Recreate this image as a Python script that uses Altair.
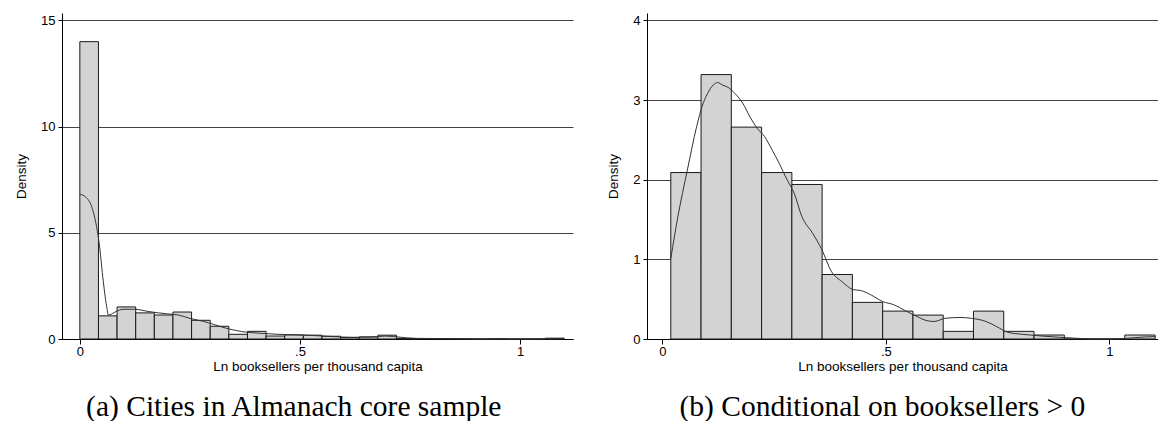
import altair as alt
import pandas as pd

# ---------------- data ----------------
# Panel (a): histogram of all cities
left_bin_start = 0.0
left_bin_width = 0.0423
left_heights = [14.0, 1.09, 1.51, 1.23, 1.13, 1.27, 0.88, 0.60, 0.22, 0.36,
                0.14, 0.19, 0.18, 0.13, 0.07, 0.10, 0.18, 0.03, 0.02, 0.02,
                0.01, 0.0, 0.01, 0.0, 0.0, 0.04]
left_kde_x = [0.0, 0.014, 0.027, 0.038, 0.044, 0.052, 0.061, 0.065, 0.082, 0.098,
              0.124, 0.157, 0.2, 0.224, 0.25, 0.283, 0.325, 0.367, 0.41, 0.45,
              0.49, 0.535, 0.578, 0.62, 0.66, 0.695, 0.73, 0.76, 0.83, 0.914,
              0.998, 1.06, 1.1]
left_kde_y = [6.82, 6.67, 6.23, 5.29, 4.5, 2.94, 1.52, 1.13, 1.29, 1.40,
              1.40, 1.29, 1.18, 1.13, 0.97, 0.82, 0.55, 0.35, 0.27, 0.22,
              0.20, 0.16, 0.11, 0.08, 0.09, 0.14, 0.08, 0.03, 0.02, 0.0,
              0.0, 0.01, 0.02]

# Panel (b): conditional on booksellers > 0
right_bin_start = 0.019
right_bin_width = 0.0677
right_heights = [2.09, 3.32, 2.66, 2.09, 1.94, 0.81, 0.46, 0.35, 0.30, 0.096,
                 0.35, 0.096, 0.05, 0.0, 0.0, 0.05]
right_kde_x = [0.019, 0.035, 0.056, 0.077, 0.089, 0.101, 0.114, 0.124, 0.134, 0.147,
               0.163, 0.18, 0.196, 0.213, 0.229, 0.246, 0.262, 0.279, 0.295, 0.312,
               0.336, 0.357, 0.378, 0.402, 0.427, 0.443, 0.468, 0.493, 0.518, 0.542,
               0.567, 0.592, 0.608, 0.633, 0.666, 0.691, 0.724, 0.748, 0.773, 0.806,
               0.847, 0.889, 0.93, 0.971, 1.0, 1.037, 1.078, 1.103]
right_kde_y = [1.01, 1.54, 2.12, 2.67, 2.92, 3.08, 3.19, 3.22, 3.19, 3.16,
               3.08, 2.96, 2.79, 2.64, 2.54, 2.37, 2.20, 2.00, 1.83, 1.54,
               1.33, 1.12, 0.85, 0.72, 0.62, 0.61, 0.55, 0.47, 0.43, 0.36,
               0.29, 0.23, 0.22, 0.26, 0.27, 0.26, 0.22, 0.155, 0.084, 0.059,
               0.038, 0.021, 0.008, 0.0, 0.0, 0.008, 0.025, 0.03]

x_ticks = [0, 0.5, 1]
left_y_ticks = [0, 5, 10, 15]
right_y_ticks = [0, 1, 2, 3, 4]
x_title = "Ln booksellers per thousand capita"
y_title = "Density"
caption_a = "(a) Cities in Almanach core sample"
caption_b = "(b) Conditional on booksellers > 0"

SANS = "Liberation Sans"
SERIF = "Liberation Serif"


def bars_df(start, width, heights):
    return pd.DataFrame({
        "x0": [start + i * width for i in range(len(heights))],
        "x1": [start + (i + 1) * width for i in range(len(heights))],
        "h": heights,
        "z": [0.0] * len(heights),
    })


def panel(start, width, heights, kx, ky, xdom, ydom, yticks, caption):
    bdf = bars_df(start, width, heights)
    kdf = pd.DataFrame({"x": kx, "y": ky})
    xscale = alt.Scale(domain=xdom, nice=False, zero=False)
    yscale = alt.Scale(domain=ydom, nice=False)
    xaxis = alt.Axis(values=x_ticks, title=x_title, grid=False,
                     labelExpr="datum.value == 0.5 ? '.5' : format(datum.value, 'd')",
                     labelFont=SANS, labelFontSize=13, labelColor="black",
                     titleFont=SANS, titleFontSize=13.5, titleFontWeight="normal",
                     titleColor="black", titlePadding=1, labelPadding=1,
                     tickSize=5, tickColor="black", domainColor="black",
                     domainWidth=1, labelFlush=False)
    yaxis = alt.Axis(values=yticks, title=y_title, grid=True, gridColor="#444444",
                     gridWidth=1.2, format="d", labelFont=SANS, labelFontSize=13,
                     labelColor="black", titleFont=SANS, titleFontSize=13.5,
                     titleFontWeight="normal", titleColor="black", titlePadding=12,
                     labelPadding=3, tickSize=4, tickColor="black",
                     domainColor="black", domainWidth=1, labelFlush=False)
    bars = alt.Chart(bdf).mark_rect(fill="#d3d3d3", stroke="#1a1a1a",
                                    strokeWidth=1).encode(
        x=alt.X("x0:Q", scale=xscale, axis=xaxis),
        x2="x1:Q",
        y=alt.Y("h:Q", scale=yscale, axis=yaxis),
        y2="z:Q",
    )
    kde = alt.Chart(kdf).mark_line(color="#333333", strokeWidth=1,
                                   interpolate="monotone").encode(
        x=alt.X("x:Q", scale=xscale),
        y=alt.Y("y:Q", scale=yscale),
    )
    return alt.layer(bars, kde).properties(
        width=511, height=326,
        title=alt.TitleParams(caption, orient="bottom", anchor="middle",
                              frame="bounds", font=SERIF, fontSize=29.5,
                              fontWeight="normal", color="black", offset=20),
    )


left = panel(left_bin_start, left_bin_width, left_heights, left_kde_x, left_kde_y,
             [-0.0405, 1.12], [0, 15.35], left_y_ticks, caption_a)
right = panel(right_bin_start, right_bin_width, right_heights, right_kde_x, right_kde_y,
              [-0.0342, 1.1087], [0, 4.093], right_y_ticks, caption_b)

chart = alt.hconcat(left, right, spacing=33).properties(
    padding={"left": 14, "top": 13, "right": 0, "bottom": 0},
    background="white",
).configure_view(stroke=None)

chart.save("out.html", embed_options={"renderer": "svg", "actions": False})
